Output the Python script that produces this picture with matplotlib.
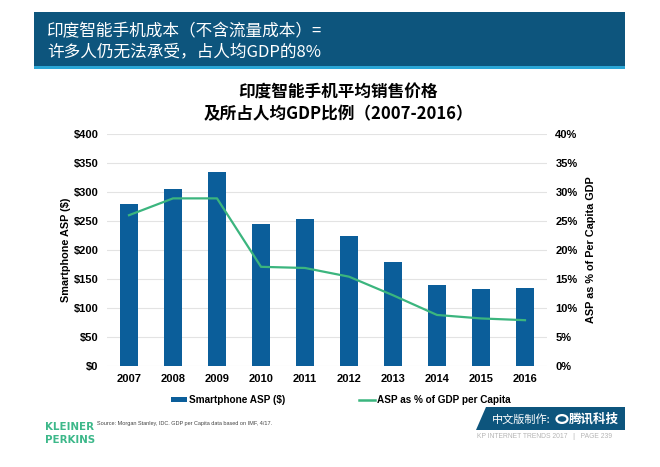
import matplotlib
matplotlib.use("Agg")
import matplotlib.pyplot as plt
from matplotlib.patches import Rectangle, Polygon, Patch, Circle
from matplotlib.lines import Line2D
from matplotlib import font_manager
from matplotlib.font_manager import FontProperties

plt.rcParams['font.family'] = ['Noto Sans CJK SC', 'DejaVu Sans']

years = ['2007', '2008', '2009', '2010', '2011', '2012', '2013', '2014', '2015', '2016']
asp = [280, 305, 335, 244, 254, 224, 179, 139, 132, 135]
pct_gdp = [26.0, 28.9, 28.9, 17.1, 16.9, 15.4, 12.2, 8.8, 8.2, 7.9]
left_ticks = [0, 50, 100, 150, 200, 250, 300, 350, 400]
right_ticks = [0, 5, 10, 15, 20, 25, 30, 35, 40]

EN = ['Liberation Sans', 'DejaVu Sans']

# find a condensed bold font if available
cond = None
for f in font_manager.fontManager.ttflist:
    st = str(f.stretch).lower()
    if ('condensed' in st or 'narrow' in f.name.lower() or 'condensed' in f.name.lower()) and str(f.weight) in ('bold', '700', 'semibold', '600'):
        cond = f.fname
        break

W, H = 660, 467
fig = plt.figure(figsize=(6.6, 4.67), dpi=100)
fig.patch.set_facecolor('white')

def fx(x):
    return x / W
def fy(y):
    return 1 - y / H

# Header bar
fig.patches.append(Rectangle((fx(34), fy(67)), fx(625 - 34), (67 - 12) / H,
                             transform=fig.transFigure, facecolor='#0D557D', edgecolor='none'))
fig.patches.append(Rectangle((fx(34), fy(69)), fx(625 - 34), 2.5 / H,
                             transform=fig.transFigure, facecolor='#2AA6D6', edgecolor='none'))
fig.text(fx(47), fy(32), '印度智能手机成本（不含流量成本）=', color='white', fontsize=12, va='center', ha='left')
fig.text(fx(47), fy(52), '许多人仍无法承受，占人均GDP的8%', color='white', fontsize=12, va='center', ha='left')

# Title
fig.text(fx(338), fy(93), '印度智能手机平均销售价格', fontsize=12, fontweight='bold', ha='center', va='center')
fig.text(fx(338), fy(114), '及所占人均GDP比例（2007-2016）', fontsize=12, fontweight='bold', ha='center', va='center')

# Axes
ax = fig.add_axes([fx(107), fy(366), fx(547 - 107), (366 - 134) / H])
x = list(range(len(years)))
ax.bar(x, asp, width=0.41, color='#0B5E9A', zorder=3)
ax.set_ylim(0, 400)
ax.set_xlim(-0.5, len(years) - 0.5)
ax.set_yticks(left_ticks)
ax.set_yticklabels(['$' + str(v) for v in left_ticks])
ax.set_xticks(x)
ax.set_xticklabels(years)
ax.grid(axis='y', color='#E3E3E3', linewidth=0.8, zorder=0)
for s in ax.spines.values():
    s.set_visible(False)
ax.tick_params(length=0, labelsize=8, pad=6)
for lab in ax.get_xticklabels() + ax.get_yticklabels():
    lab.set_fontweight('bold')
    lab.set_family(EN)
ax.set_ylabel('Smartphone ASP ($)', fontsize=7.8, fontweight='bold', family=EN, labelpad=2)

ax2 = ax.twinx()
ax2.plot(x, pct_gdp, color='#3BB57E', linewidth=1.6, zorder=4)
ax2.set_ylim(0, 40)
ax2.set_yticks(right_ticks)
ax2.set_yticklabels([str(v) + '%' for v in right_ticks])
for s in ax2.spines.values():
    s.set_visible(False)
ax2.tick_params(length=0, labelsize=8, pad=6)
for lab in ax2.get_yticklabels():
    lab.set_fontweight('bold')
    lab.set_family(EN)
ax2.set_ylabel('ASP as % of Per Capita GDP', fontsize=7.8, fontweight='bold', family=EN, labelpad=6)

# Legend
handles = [Patch(facecolor='#0B5E9A', edgecolor='none'),
           Line2D([0], [0], color='#3BB57E', linewidth=1.8)]
leg = fig.legend(handles, ['Smartphone ASP ($)', 'ASP as % of GDP per Capita'],
                 loc='center', bbox_to_anchor=(fx(341), fy(400)), ncol=2, frameon=False,
                 prop={'family': EN, 'weight': 'bold', 'size': 7.2},
                 handlelength=1.6, handletextpad=0.2, columnspacing=7.4, handleheight=0.5,
                 borderpad=0, borderaxespad=0)

# Footer
if cond:
    kp = FontProperties(fname=cond, size=8.2)
else:
    kp = FontProperties(family=EN, weight='bold', size=7.5)
kp2 = FontProperties(family=EN, size=4.0)
kp3 = FontProperties(family=EN, size=4.9)
fig.text(fx(45), fy(427), 'KLEINER', color='#3DB88A', fontproperties=kp, ha='left', va='center')
fig.text(fx(45), fy(440), 'PERKINS', color='#3DB88A', fontproperties=kp, ha='left', va='center')
fig.text(fx(97), fy(423), 'Source: Morgan Stanley, IDC. GDP per Capita data based on IMF, 4/17.', fontproperties=kp2, color='#444444', ha='left', va='center')

fig.patches.append(Polygon([(fx(486), fy(407)), (fx(625), fy(407)), (fx(625), fy(430)), (fx(476), fy(430))],
                           closed=True, transform=fig.transFigure, facecolor='#0D557D', edgecolor='none'))
fig.text(fx(492), fy(419), '中文版制作:', color='white', fontsize=8, ha='left', va='center')
fig.patches.append(Circle((fx(562), fy(419)), 5.5 / W, transform=fig.transFigure,
                          facecolor='none', edgecolor='white', linewidth=1.6))
fig.text(fx(569), fy(419), '腾讯科技', color='white', fontsize=9, fontweight='bold', ha='left', va='center')
fig.text(fx(612), fy(437), 'KP INTERNET TRENDS 2017   |   PAGE 239', color='#B5B5B5', fontproperties=kp3, ha='right', va='center')

fig.savefig('out.png', dpi=100)
